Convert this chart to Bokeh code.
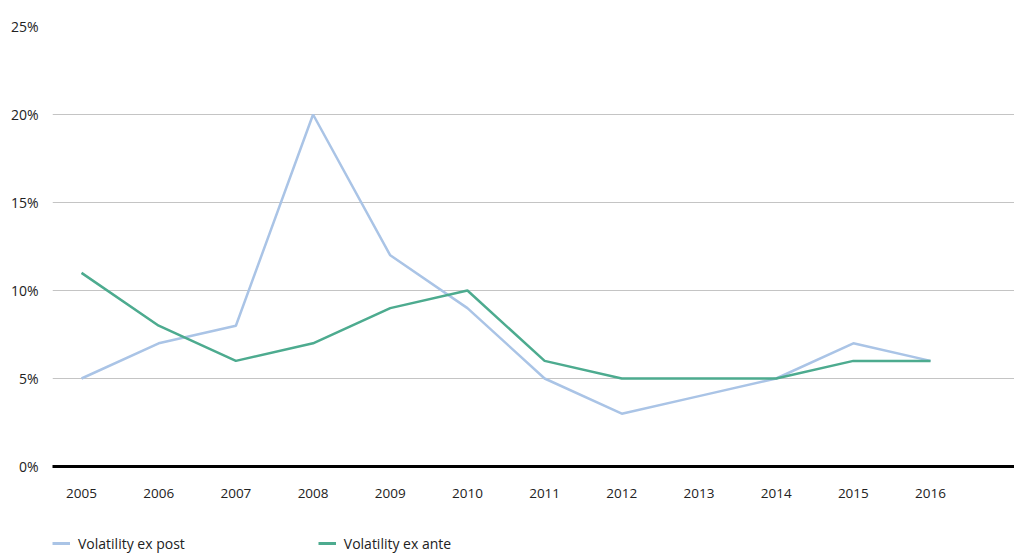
from bokeh.plotting import figure
from bokeh.layouts import column
from bokeh.models import Range1d, FixedTicker, Legend, LegendItem, CustomJSTickFormatter
from bokeh.embed import file_html
from bokeh.resources import INLINE

years = [2005, 2006, 2007, 2008, 2009, 2010, 2011, 2012, 2013, 2014, 2015, 2016]
ex_post = [5, 7, 8, 20, 12, 9, 5, 3, 4, 5, 7, 6]
ex_ante = [11, 8, 6, 7, 9, 10, 6, 5, 5, 5, 6, 6]
y_ticks = [0, 5, 10, 15, 20, 25]
series_names = ["Volatility ex post", "Volatility ex ante"]
colors = ["#aac4e6", "#4dab8f"]

FONT = "Open Sans"
W = 1014

p = figure(width=W, height=510, output_backend="svg", toolbar_location=None,
           x_range=Range1d(2004.624, 2017.088), y_range=Range1d(0, 25),
           min_border_left=52, min_border_right=0, min_border_top=26,
           min_border_bottom=44)
p.outline_line_color = None
p.background_fill_color = "white"

p.line(years, ex_post, line_color=colors[0], line_width=2.5)
p.line(years, ex_ante, line_color=colors[1], line_width=2.5)

p.xgrid.grid_line_color = None
p.ygrid.grid_line_color = "#c4c4c4"
p.ygrid.grid_line_width = 1
p.ygrid.ticker = FixedTicker(ticks=y_ticks)

p.yaxis.ticker = FixedTicker(ticks=y_ticks)
p.yaxis.formatter = CustomJSTickFormatter(code="return tick + '%';")
p.yaxis.axis_line_color = None
p.yaxis.major_tick_line_color = None
p.yaxis.minor_tick_line_color = None
p.yaxis.major_label_standoff = 8
p.yaxis.major_label_text_font = FONT
p.yaxis.major_label_text_font_size = "14px"
p.yaxis.major_label_text_color = "#222222"

p.xaxis.ticker = FixedTicker(ticks=years)
p.xaxis.axis_line_color = "black"
p.xaxis.axis_line_width = 3
p.xaxis.major_tick_line_color = None
p.xaxis.minor_tick_line_color = None
p.xaxis.major_label_standoff = 16
p.xaxis.major_label_text_font = FONT
p.xaxis.major_label_text_font_size = "13.5px"
p.xaxis.major_label_text_color = "#222222"

# legend strip
lg = figure(width=W, height=43, output_backend="svg", toolbar_location=None,
            x_range=Range1d(0, 1), y_range=Range1d(0, 1),
            min_border=0, x_axis_type=None, y_axis_type=None)
lg.outline_line_color = None
lg.xgrid.grid_line_color = None
lg.ygrid.grid_line_color = None
l1 = lg.line([5, 6], [5, 6], line_color=colors[0], line_width=3)
l2 = lg.line([5, 6], [5, 6], line_color=colors[1], line_width=3)
legend = Legend(items=[LegendItem(label=series_names[0], renderers=[l1]),
                       LegendItem(label=series_names[1], renderers=[l2])],
                orientation="horizontal", location=(0, 0),
                spacing=133, glyph_width=18, label_standoff=8,
                label_text_font=FONT, label_text_font_size="14px",
                label_text_color="#222222", border_line_color=None,
                background_fill_alpha=0, padding=0, margin=0)
lg.add_layout(legend, "center")

layout = column(p, lg, spacing=0)
open("out.html", "w").write(file_html(layout, INLINE))
